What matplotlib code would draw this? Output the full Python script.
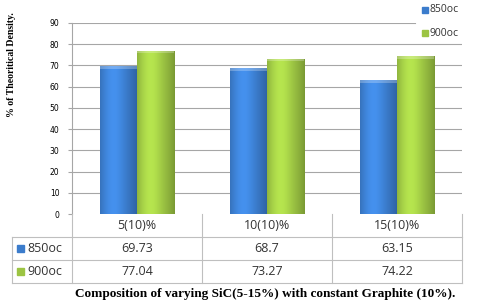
import numpy as np
from matplotlib import pyplot as plt
from matplotlib.patches import Rectangle
from matplotlib.lines import Line2D
from matplotlib.colors import to_rgb

categories = ['5(10)%', '10(10)%', '15(10)%']
series = ['850oc', '900oc']
vals_850 = [69.73, 68.7, 63.15]
vals_900 = [77.04, 73.27, 74.22]
labels_850 = ['69.73', '68.7', '63.15']
labels_900 = ['77.04', '73.27', '74.22']
yticks = [0, 10, 20, 30, 40, 50, 60, 70, 80, 90]

blue = '#3b7ccc'
green = '#9cc443'
grid_c = '#a6a6a6'

W, H = 480, 303
fig = plt.figure(figsize=(4.8, 3.03), dpi=100)

# plot area in pixels
x0, x1 = 72, 462
ytop, ybot = 23, 214

def fx(px):
    return px / W

def fy(py):
    return 1 - py / H

ax = fig.add_axes([fx(x0), fy(ybot), fx(x1) - fx(x0), fy(ytop) - fy(ybot)])
ax.set_xlim(-0.5, 2.5)
ax.set_ylim(0, 90)
x = np.arange(len(categories))
bw = 0.285


def shaded_bars(xs, heights, color, edge):
    bars = ax.bar(xs, heights, bw, color=color, edgecolor=edge, linewidth=0.6, zorder=3)
    base = np.array(to_rgb(color))
    t = np.linspace(0, 1, 64)
    # lighter toward the left-middle, darker at the edges
    k = 1.0 + 0.18 * np.exp(-((t - 0.35) / 0.3) ** 2) - 0.22 * t ** 4 - 0.12 * (1 - t) ** 6
    grad = np.clip(base[None, :] * k[:, None], 0, 1)[None, :, :]
    for b in bars:
        bx, by = b.get_x(), b.get_y()
        im = ax.imshow(grad, extent=[bx, bx + b.get_width(), by, by + b.get_height()],
                       aspect='auto', zorder=3.5, interpolation='bilinear')
        im.set_clip_path(b)
        # light bevel at top
        ax.fill_between([bx, bx + b.get_width()], b.get_height() - 1.2, b.get_height(),
                        color='white', alpha=0.25, zorder=3.6, lw=0)
    return bars


shaded_bars(x - bw / 2, vals_850, blue, '#2c5f9e')
shaded_bars(x + bw / 2, vals_900, green, '#6f8f2a')
ax.set_xlim(-0.5, 2.5)
ax.set_ylim(0, 90)

for t in yticks[1:]:
    xe = 0.88 if t == 90 else 1.0
    ax.axhline(t, xmin=0, xmax=xe, color=grid_c, lw=0.8, zorder=1)
ax.set_yticks(yticks)
ax.set_xticks([])
for s in ['top', 'right', 'bottom']:
    ax.spines[s].set_visible(False)
ax.spines['left'].set_color(grid_c)
ax.tick_params(axis='y', labelsize=5.5, length=3, color=grid_c, pad=6)

# legend (top right)
for i, (name, c) in enumerate(zip(series, [blue, green])):
    yy = 10 + i * 23
    fig.patches.append(Rectangle((fx(422), fy(yy + 3)), fx(6), 6 / H, color=c,
                                 transform=fig.transFigure, figure=fig))
    fig.text(fx(430), fy(yy), name, fontsize=7.5, va='center', ha='left',
             family='Open Sans', color='#333333')

# data table
tl = 12
cols = [72, 202, 332, 462]
rows = [214, 237, 260, 283]
lc = '#bfbfbf'

def hline(py, xa, xb):
    fig.add_artist(Line2D([fx(xa), fx(xb)], [fy(py), fy(py)], color=lc, lw=0.8))

def vline(px, ya, yb):
    fig.add_artist(Line2D([fx(px), fx(px)], [fy(ya), fy(yb)], color=lc, lw=0.8))

hline(rows[1], tl, x1)
hline(rows[2], tl, x1)
hline(rows[3], tl, x1)
vline(tl, rows[1], rows[3])
for c in cols:
    vline(c, rows[0], rows[3])

for i, cat in enumerate(categories):
    cx = (cols[i] + cols[i + 1]) / 2
    fig.text(fx(cx), fy((rows[0] + rows[1]) / 2), cat, ha='center', va='center',
             fontsize=9, family='Open Sans', color='#333333')
    fig.text(fx(cx), fy((rows[1] + rows[2]) / 2), labels_850[i], ha='center', va='center',
             fontsize=9, family='Open Sans', color='#333333')
    fig.text(fx(cx), fy((rows[2] + rows[3]) / 2), labels_900[i], ha='center', va='center',
             fontsize=9, family='Open Sans', color='#333333')

for j, (name, c) in enumerate(zip(series, [blue, green])):
    yc = (rows[1 + j] + rows[2 + j]) / 2
    fig.patches.append(Rectangle((fx(17), fy(yc + 3.5)), fx(7), 7 / H, color=c,
                                 transform=fig.transFigure, figure=fig))
    fig.text(fx(27), fy(yc), name, ha='left', va='center', fontsize=9,
             family='Open Sans', color='#333333')

fig.text(fx(12), fy(65), '% of Theoritical Density.', rotation=90, ha='center', va='center',
         fontsize=7, fontweight='bold', family='Liberation Serif')
fig.text(fx(265), fy(294), 'Composition of varying SiC(5-15%) with constant Graphite (10%).',
         ha='center', va='center', fontsize=9.5, fontweight='bold', family='Liberation Serif')

plt.savefig('out.png', dpi=100)
